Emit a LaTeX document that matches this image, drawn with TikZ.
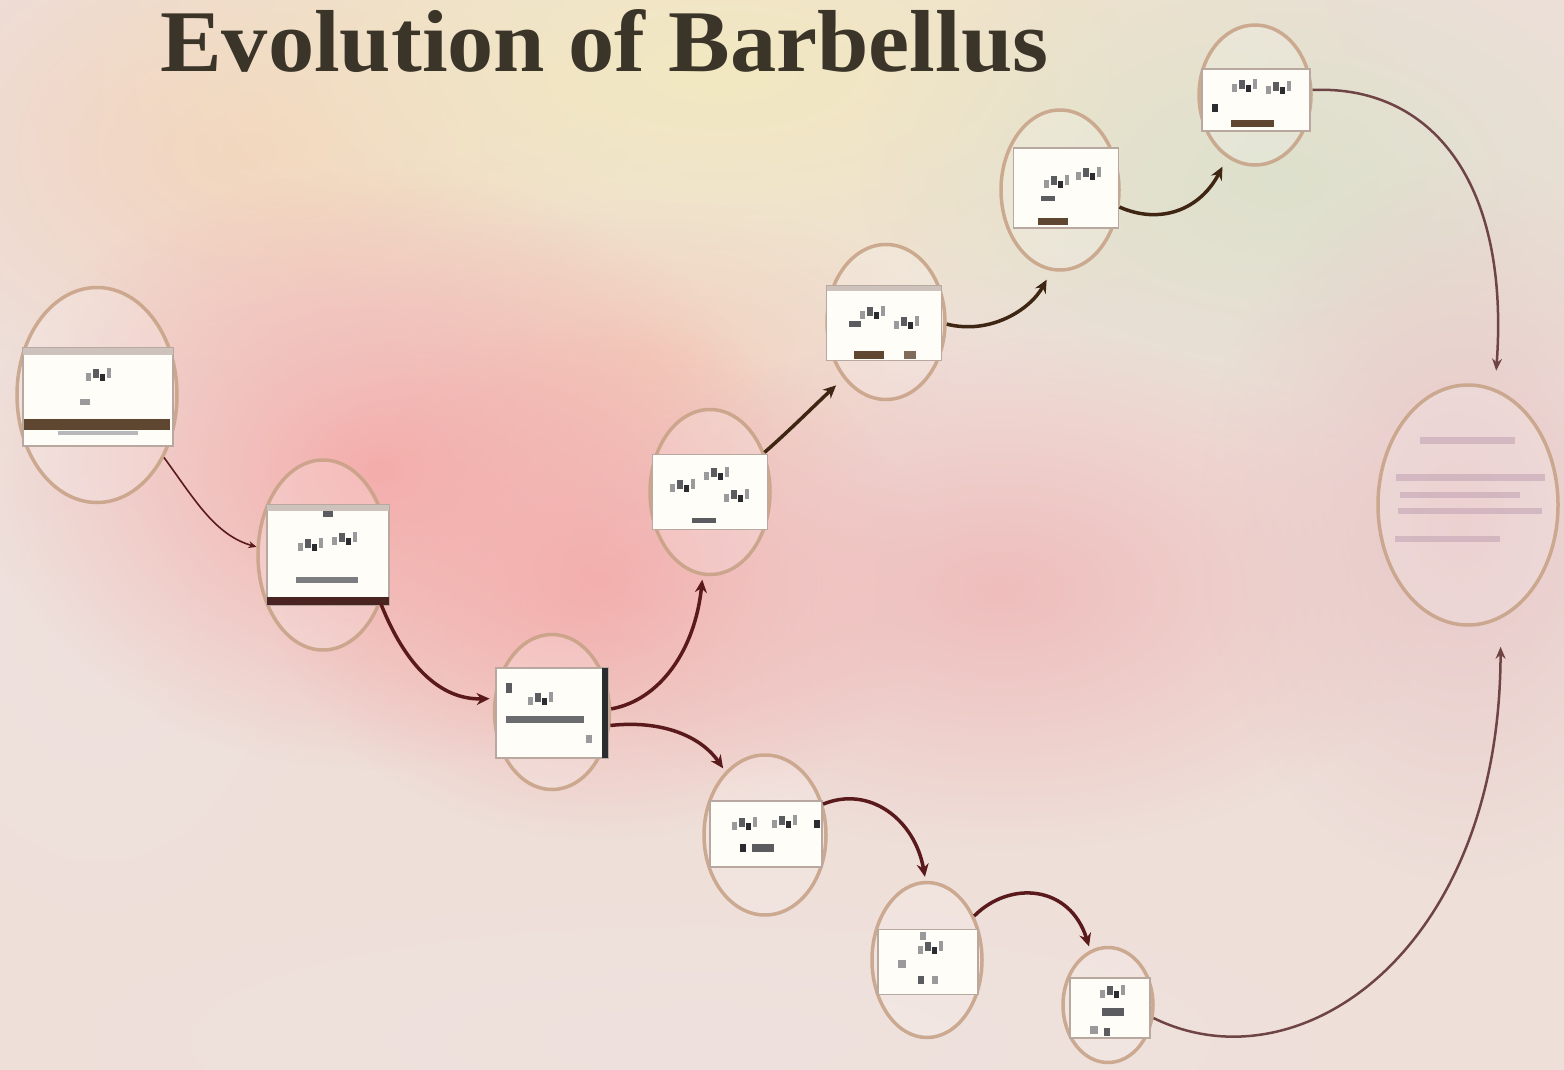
\documentclass[tikz,border=0pt]{standalone}
\usepackage{fontspec}
\setmainfont{Liberation Serif}
\newfontfamily\titlefont[FakeStretch=1.05]{Liberation Serif}
\usetikzlibrary{fadings,arrows.meta,shapes.geometric}
\tikzfading[name=blob, inner color=transparent!0, outer color=transparent!100]
\definecolor{bgbase}{HTML}{EEDFD9}
\definecolor{bgyel}{HTML}{F2E8C0}
\definecolor{bggrn}{HTML}{DDE1CC}
\definecolor{bgpink}{HTML}{F4AEAC}
\definecolor{bgpink2}{HTML}{EFBDBC}
\definecolor{bgpale}{HTML}{EEE2DE}
\definecolor{bgpeach}{HTML}{F3D2BE}
\definecolor{bgright}{HTML}{E8C8C8}
\definecolor{ring}{HTML}{C6A084}
\definecolor{arrowred}{HTML}{5A1A1C}
\definecolor{arrowbrn}{HTML}{3E2612}
\definecolor{arrowlite}{HTML}{6E4444}
\definecolor{titlecol}{HTML}{3B3429}
\definecolor{cardfill}{HTML}{FFFDF7}
\definecolor{cardedge}{HTML}{B8A8A0}
\definecolor{inka}{HTML}{9A9A9C}
\definecolor{inkb}{HTML}{5A5C60}
\definecolor{inkc}{HTML}{2A2C30}
\definecolor{banddark}{HTML}{5E4630}
\definecolor{bandred}{HTML}{4A2420}
\definecolor{faint}{HTML}{BFA0B2}
\newcommand\glyphclus[2]{%
  \fill[inka] (#1-12,#2-4) rectangle ++(5,8);
  \fill[inkb] (#1-5,#2-8) rectangle ++(6,9);
  \fill[inkc] (#1+2,#2-3) rectangle ++(5,7);
  \fill[inka] (#1+9,#2-9) rectangle ++(4,10);}
\tikzset{
  bubble/.style={ellipse, draw=ring, line width=3.5pt, fill=white, fill opacity=0.18, draw opacity=0.85, inner sep=0pt},
  card/.style={rectangle, draw=cardedge, line width=1.2pt, fill=cardfill, inner sep=0pt},
  link/.style={draw=arrowred, line width=3.5pt, shorten >=4pt, -{Stealth[length=13pt,width=12pt]}},
  linkb/.style={draw=arrowbrn, line width=3.5pt, shorten >=10pt, -{Stealth[length=13pt,width=12pt]}},
  linkl/.style={draw=arrowlite, line width=2.5pt, -{Stealth[length=12pt,width=10pt]}},
  linkt/.style={draw=arrowred, line width=1.6pt, -{Stealth[length=8pt,width=7pt]}},
}
\begin{document}
\begin{tikzpicture}[x=1pt,y=-1pt]
\useasboundingbox (0,0) rectangle (1564,1070);
\begin{scope}
\clip (0,0) rectangle (1564,1070);
% background
\fill[bgbase] (0,0) rectangle (1564,1070);
\fill[bgpale, path fading=blob] (100,620) ellipse (260 and 360);
\fill[bgpeach, path fading=blob] (250,150) ellipse (380 and 260);
\fill[bgyel, path fading=blob] (720,70) ellipse (700 and 300);
\fill[bggrn, path fading=blob] (1280,180) ellipse (420 and 260);
\fill[bgpeach, path fading=blob] (650,360) ellipse (300 and 160);
\fill[bgpink, path fading=blob] (380,470) ellipse (400 and 300);
\fill[bgpink, path fading=blob] (600,580) ellipse (330 and 260);
\fill[bgpink2, path fading=blob] (1000,590) ellipse (440 and 260);
\fill[bgright, path fading=blob] (1460,520) ellipse (260 and 360);
\fill[bgpale, path fading=blob] (700,1040) ellipse (760 and 170);
\end{scope}

% title
\node[anchor=base west, inner sep=0pt, text=titlecol, font=\titlefont\fontsize{88}{96}\selectfont\bfseries] (title) at (160,72) {Evolution of Barbellus};

% bubbles
\node[bubble, minimum width=160pt, minimum height=215pt] (A) at (97,395) {};
\node[bubble, minimum width=130pt, minimum height=190pt] (B) at (323,555) {};
\node[bubble, minimum width=115pt, minimum height=155pt] (C) at (552,712) {};
\node[bubble, minimum width=120pt, minimum height=165pt] (D) at (710,492) {};
\node[bubble, minimum width=118pt, minimum height=155pt] (E) at (886,322) {};
\node[bubble, minimum width=118pt, minimum height=160pt] (F) at (1060,190) {};
\node[bubble, minimum width=112pt, minimum height=140pt] (G) at (1255,95) {};
\node[bubble, minimum width=180pt, minimum height=240pt] (H) at (1468,505) {};
\node[bubble, minimum width=122pt, minimum height=160pt] (I) at (765,835) {};
\node[bubble, minimum width=110pt, minimum height=155pt] (J) at (927,960) {};
\node[bubble, minimum width=90pt, minimum height=115pt] (K) at (1108,1005) {};

% cards
\node[card, minimum width=150pt, minimum height=98pt] (Ac) at (98,397) {};
\begin{scope}[shift={(98,397)}]
  \fill[cardedge!70] (-75,-49) rectangle (75,-42);
  \glyphclus{0}{-20}
  \fill[inka] (-18,2) rectangle ++(10,6);
  \fill[banddark] (-74,22) rectangle (72,33);
  \fill[inka!70] (-40,34) rectangle (40,38);
\end{scope}
\node[card, minimum width=122pt, minimum height=100pt] (Bc) at (328,555) {};
\begin{scope}[shift={(328,555)}]
  \fill[cardedge!70] (-61,-50) rectangle (61,-44);
  \fill[inkb] (-5,-44) rectangle ++(10,6);
  \glyphclus{-18}{-8}
  \glyphclus{16}{-14}
  \fill[inkb!80] (-32,22) rectangle (30,28);
  \fill[bandred] (-61,42) rectangle (61,50);
\end{scope}
\node[card, minimum width=112pt, minimum height=90pt] (Cc) at (552,713) {};
\begin{scope}[shift={(552,713)}]
  \fill[inkb] (-46,-30) rectangle ++(6,10);
  \glyphclus{-12}{-12}
  \fill[inkb!90] (-46,3) rectangle (32,10);
  \fill[inka] (34,22) rectangle ++(6,8);
  \fill[inkc] (50,-45) rectangle (56,45);
\end{scope}
\node[card, minimum width=115pt, minimum height=75pt] (Dc) at (710,492) {};
\begin{scope}[shift={(710,492)}]
  \glyphclus{-28}{-4}
  \glyphclus{6}{-16}
  \glyphclus{26}{6}
  \fill[inkb] (-18,26) rectangle (6,31);
\end{scope}
\node[card, minimum width=115pt, minimum height=75pt] (Ec) at (884,323) {};
\begin{scope}[shift={(884,323)}]
  \fill[cardedge!70] (-57,-37) rectangle (57,-32);
  \glyphclus{-12}{-8}
  \glyphclus{22}{2}
  \fill[inkb] (-35,-2) rectangle ++(12,6);
  \fill[banddark] (-30,28) rectangle (0,36);
  \fill[banddark!80] (20,28) rectangle ++(12,8);
\end{scope}
\node[card, minimum width=105pt, minimum height=80pt] (Fc) at (1066,188) {};
\begin{scope}[shift={(1066,188)}]
  \glyphclus{-10}{-4}
  \glyphclus{22}{-12}
  \fill[inkb] (-25,8) rectangle ++(14,5);
  \fill[banddark] (-28,30) rectangle (2,37);
\end{scope}
\node[card, minimum width=108pt, minimum height=62pt] (Gc) at (1256,100) {};
\begin{scope}[shift={(1256,100)}]
  \glyphclus{-12}{-12}
  \glyphclus{22}{-10}
  \fill[inkc] (-44,4) rectangle ++(6,8);
  \fill[banddark] (-25,20) rectangle (18,27);
\end{scope}
\node[card, minimum width=112pt, minimum height=66pt] (Ic) at (766,834) {};
\begin{scope}[shift={(766,834)}]
  \glyphclus{-22}{-8}
  \glyphclus{18}{-10}
  \fill[inkc] (-26,10) rectangle (-20,18);
  \fill[inkb] (-14,10) rectangle (8,18);
  \fill[inkc] (48,-14) rectangle (54,-6);
\end{scope}
\node[card, minimum width=100pt, minimum height=65pt] (Jc) at (928,962) {};
\begin{scope}[shift={(928,962)}]
  \fill[inka] (-8,-30) rectangle ++(6,8);
  \glyphclus{2}{-12}
  \fill[inka] (-30,-2) rectangle ++(8,8);
  \fill[inkb] (-10,14) rectangle ++(6,8);
  \fill[inka] (4,14) rectangle ++(6,8);
\end{scope}
\node[card, minimum width=80pt, minimum height=60pt] (Kc) at (1110,1008) {};
\begin{scope}[shift={(1110,1008)}]
  \glyphclus{2}{-14}
  \fill[inkb] (-8,0) rectangle ++(22,8);
  \fill[inka] (-20,18) rectangle ++(8,8);
  \fill[inkb] (-6,20) rectangle ++(6,8);
\end{scope}

% faint text lines in H
\begin{scope}[fill opacity=0.55]
  \fill[faint] (1420,437) rectangle (1515,444);
  \fill[faint] (1396,474) rectangle (1545,481);
  \fill[faint] (1400,492) rectangle (1520,498);
  \fill[faint] (1398,508) rectangle (1542,514);
  \fill[faint] (1395,536) rectangle (1500,542);
\end{scope}

% connectors
\draw[linkt] (A.-43) .. controls (195,500) and (215,535) .. (B.173);
\draw[link] (B.-40) .. controls (405,665) and (440,700) .. (C.167);
\draw[link] (C.3) .. controls (660,700) and (695,650) .. (D.-95);
\draw[link] (C.-13) .. controls (660,720) and (700,735) .. (I.122);
\draw[linkb] (D.36) .. controls (790,430) and (815,405) .. (E.-127);
\draw[linkb] (E.-2) .. controls (990,335) and (1030,310) .. (F.-96);
\draw[linkb] (F.-16) .. controls (1160,225) and (1200,210) .. (G.-114);
\draw[linkl, shorten >=18pt] (G.5) .. controls (1430,85) and (1510,180) .. (H.77);
\draw[link] (I.28) .. controls (870,785) and (915,820) .. (J.91);
\draw[link] (J.43) .. controls (1010,880) and (1070,885) .. (K.108);
\draw[linkl, shorten >=28pt] (K.-16) .. controls (1300,1090) and (1500,950) .. (H.-74);
\end{tikzpicture}
\end{document}
